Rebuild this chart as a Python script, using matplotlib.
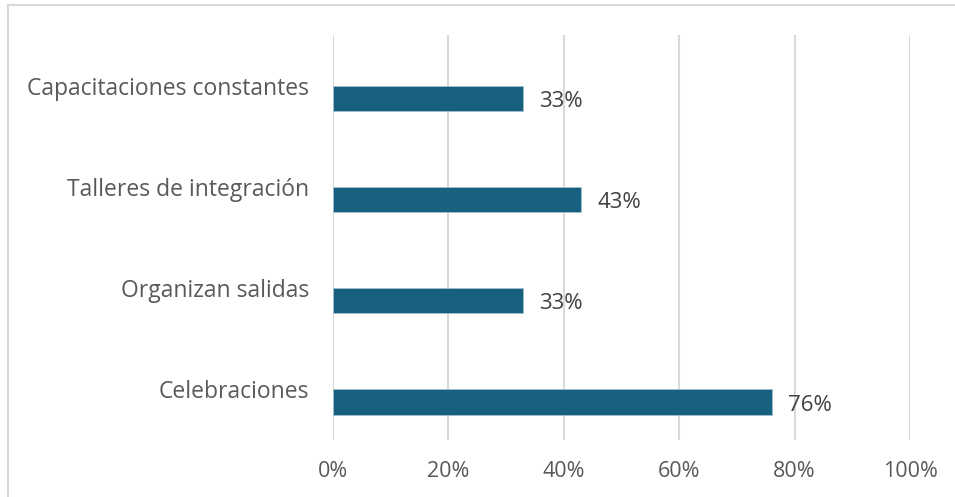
import matplotlib
matplotlib.use("Agg")
import matplotlib.pyplot as plt
from matplotlib.lines import Line2D
from matplotlib.ticker import FuncFormatter

categories = ["Capacitaciones constantes", "Talleres de integración",
              "Organizan salidas", "Celebraciones"]
values = [33, 43, 33, 76]
x_ticks = [0, 20, 40, 60, 80, 100]

BAR_COLOR = "#17607f"
TEXT_COLOR = "#595959"
LABEL_COLOR = "#404040"
GRID_COLOR = "#d9d9d9"

plt.rcParams["font.family"] = ["Open Sans", "DejaVu Sans"]

W, H = 955, 497
fig = plt.figure(figsize=(W / 100, H / 100), dpi=100)
ax = fig.add_axes([333 / W, 1 - 440 / H, (910 - 333) / W, (440 - 35) / H])

pos = list(range(len(categories)))
bar_h = 0.25
ax.barh([p + 0.5 for p in pos], values, height=bar_h, align="edge",
        color=BAR_COLOR, edgecolor="#9fbfcc", linewidth=0.6, zorder=3)

for p, v in zip(pos, values):
    ax.annotate(f"{v}%", xy=(v, p + 0.5 + bar_h / 2), xytext=(16, -3),
                textcoords="offset pixels", ha="left", va="center",
                fontsize=16, color=LABEL_COLOR)

ax.set_xlim(0, 100)
ax.set_ylim(len(categories), 0)
ax.set_xticks(x_ticks)
ax.xaxis.set_major_formatter(FuncFormatter(lambda x, _: f"{x:.0f}%"))
ax.set_yticks([p + 0.5 for p in pos])
ax.set_yticklabels(categories)

ax.tick_params(axis="x", length=0, pad=15, labelsize=15.5, labelcolor=TEXT_COLOR)
ax.tick_params(axis="y", length=0, pad=17, labelsize=16.5, labelcolor=TEXT_COLOR)
ax.grid(axis="x", color=GRID_COLOR, linewidth=1.5, zorder=0)
for s in ax.spines.values():
    s.set_visible(False)

# light frame along the top and left of the chart area
fig.add_artist(Line2D([8 / W, 8 / W], [0, 1 - 5 / H], transform=fig.transFigure,
                      color="#d9d9d9", linewidth=1.5))
fig.add_artist(Line2D([8 / W, 1], [1 - 5 / H, 1 - 5 / H], transform=fig.transFigure,
                      color="#d9d9d9", linewidth=1.5))

fig.savefig("out.png", dpi=100)
